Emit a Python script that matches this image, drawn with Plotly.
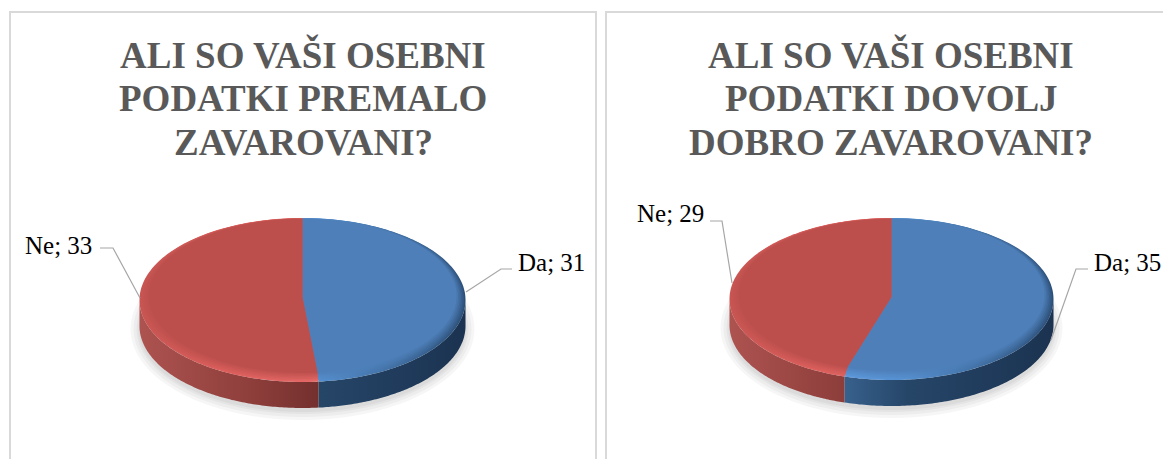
import numpy as np
import plotly.graph_objects as go

categories = ["Da", "Ne"]
values_premalo = [31, 33]
values_dovolj = [35, 29]
title_premalo = ["ALI SO VAŠI OSEBNI", "PODATKI PREMALO", "ZAVAROVANI?"]
title_dovolj = ["ALI SO VAŠI OSEBNI", "PODATKI DOVOLJ", "DOBRO ZAVAROVANI?"]

WIDTH = 1163
HEIGHT = 459
TITLE_FONT = dict(family="Liberation Serif", size=37, color="#595959")
LABEL_FONT = dict(family="Liberation Serif", size=25, color="#000000")

face_colors = ["#4E7FB9", "#BC4F4C"]
side_scales = [
    [[0, "#3F6C9C"], [0.36, "#37608C"], [0.55, "#264668"], [0.8, "#203B5C"], [1, "#1B3350"]],
    [[0, "#AD5350"], [0.36, "#8C3D3A"], [0.55, "#73302E"], [1, "#73302E"]],
]
rim_scales = [
    [[0, "#5C98DC"], [0.36, "#5C98DC"], [0.55, "#5590D0"], [0.8, "#3E6C9E"], [1, "#2C4F78"]],
    [[0, "#C85552"], [0.25, "#DC5F5C"], [0.55, "#E56967"], [1, "#E56967"]],
]


def mix(color_a, color_b, t):
    a = [int(color_a[i:i + 2], 16) for i in (1, 3, 5)]
    b = [int(color_b[i:i + 2], 16) for i in (1, 3, 5)]
    return "#%02X%02X%02X" % tuple(round(p + (q - p) * t) for p, q in zip(a, b))


def arc(cx, cy, rx, ry, start, end):
    angles = np.radians(np.linspace(start, end, 120))
    return cx + rx * np.sin(angles), cy - ry * np.cos(angles)


def add_area(fig, x, y, scale, x0, x1):
    fig.add_trace(go.Scatter(
        x=x, y=y, mode="none", fill="toself", hoverinfo="skip", showlegend=False,
        fillgradient=dict(type="horizontal", colorscale=scale, start=x0, stop=x1),
    ))


def add_pie(fig, values, cx, cy, rx, ry, depth, hub_y):
    # soft shadow under the disc
    for grow in (9, 6, 3, 1):
        x, y = arc(cx, cy + depth + 3, rx + grow, ry + grow, 0, 360)
        fig.add_trace(go.Scatter(
            x=x, y=y, mode="none", fill="toself", hoverinfo="skip", showlegend=False,
            fillcolor="rgba(0,0,0,0.035)",
        ))

    x0, x1 = cx - rx, cx + rx
    total = sum(values)
    edges = np.cumsum([0] + values) / total * 360

    # side wall, only the front half shows
    for i in range(len(values)):
        start, end = max(edges[i], 90), min(edges[i + 1], 270)
        if start >= end:
            continue
        xt, yt = arc(cx, cy, rx, ry, start, end)
        xs = np.concatenate([xt, xt[::-1]])
        ys = np.concatenate([yt, yt[::-1] + depth])
        add_area(fig, xs, ys, side_scales[i], x0, x1)

    # bevel: nested faces going from the rim colour to the flat colour
    insets = (0, 1.5, 3, 4.5, 6, 7.5, 9)
    for step, inset in enumerate(insets):
        for i in range(len(values)):
            t = step / (len(insets) - 1)
            scale = [[p, mix(c, face_colors[i], t)] for p, c in rim_scales[i]]
            ax, ay = arc(cx, cy - inset * 0.45, rx - inset, ry - inset * 0.55, edges[i], edges[i + 1])
            x = np.concatenate([[cx], ax, [cx]])
            y = np.concatenate([[hub_y], ay, [hub_y]])
            add_area(fig, x, y, scale, x0, x1)


def add_leader(fig, x, y):
    fig.add_trace(go.Scatter(
        x=x, y=y, mode="lines", line=dict(color="#A6A6A6", width=1.2),
        hoverinfo="skip", showlegend=False,
    ))


def add_label(fig, text, x, y, anchor):
    fig.add_annotation(
        x=x, y=y, text=text, showarrow=False, xanchor=anchor, yanchor="middle",
        font=LABEL_FONT, xref="x", yref="y",
    )


fig = go.Figure()

add_pie(fig, values_premalo, 302.5, 300, 163, 82, 26, 297)
add_pie(fig, values_dovolj, 891.5, 299, 162, 81, 26, 297)

add_leader(fig, [466, 501, 512], [292, 269, 269])
add_leader(fig, [140, 113, 100], [298, 248, 248])
add_leader(fig, [1051, 1076, 1088], [340, 269, 269])
add_leader(fig, [732, 722, 710], [283, 221, 221])

add_label(fig, f"{categories[0]}; {values_premalo[0]}", 516, 262, "left")
add_label(fig, f"{categories[1]}; {values_premalo[1]}", 94, 245, "right")
add_label(fig, f"{categories[0]}; {values_dovolj[0]}", 1092, 262, "left")
add_label(fig, f"{categories[1]}; {values_dovolj[1]}", 706, 213, "right")

for lines, center in ((title_premalo, 303), (title_dovolj, 891)):
    for n, line in enumerate(lines):
        fig.add_annotation(
            x=center, y=55 + n * 43.5, text=f"<b>{line}</b>", showarrow=False, xanchor="center",
            yanchor="middle", font=TITLE_FONT, xref="x", yref="y",
        )

border = dict(color="#D9D9D9", width=2)
fig.add_shape(type="rect", x0=10, x1=596, y0=12, y1=470, line=border, layer="below")
fig.add_shape(type="rect", x0=606, x1=1180, y0=12, y1=470, line=border, layer="below")

fig.update_xaxes(range=[0, WIDTH], visible=False, fixedrange=True)
fig.update_yaxes(range=[HEIGHT, 0], visible=False, fixedrange=True)
fig.update_layout(
    width=WIDTH,
    height=HEIGHT,
    margin=dict(l=0, r=0, t=0, b=0),
    paper_bgcolor="#FFFFFF",
    plot_bgcolor="#FFFFFF",
    showlegend=False,
)

# page margin would push the whole figure off by 8px
fig.write_html(
    "out.html",
    config=dict(displayModeBar=False),
    post_script="document.body.style.margin='0';document.body.style.overflow='hidden';",
)
